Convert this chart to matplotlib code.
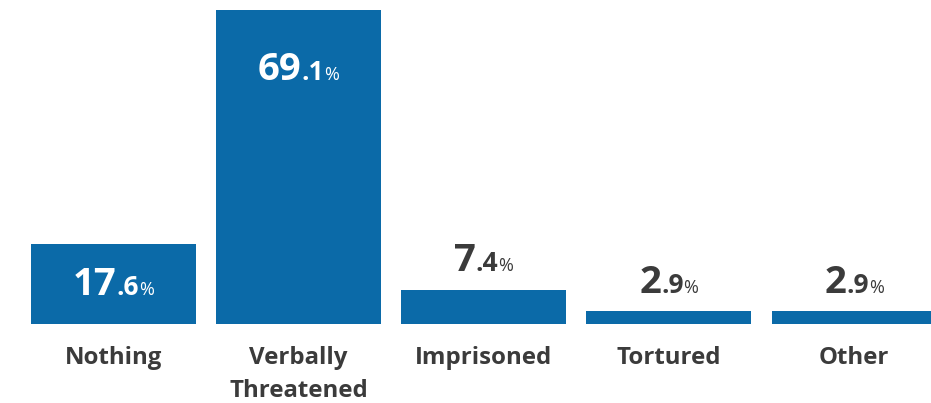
import matplotlib
matplotlib.use("Agg")
import matplotlib.pyplot as plt

categories = ["Nothing", "Verbally\nThreatened", "Imprisoned", "Tortured", "Other"]
values = [17.6, 69.1, 7.4, 2.9, 2.9]
whole_parts = ["17", "69", "7", "2", "2"]
decimal_parts = [".6", ".1", ".4", ".9", ".9"]

BAR = "#0b6aa8"
DARK = "#3b3b3b"
FONT = ["Open Sans", "DejaVu Sans"]

# label placement relative to bar top, in pixels (negative = inside bar)
label_off = [-51, -70, 19, 18, 18]

fig = plt.figure(figsize=(9.31, 4.03), dpi=100)
ax = fig.add_axes([0, 0, 1, 1])
x = list(range(len(values)))
ax.bar(x, values, width=0.89, color=BAR)
ax.set_xlim(-0.613, 4.416)
ax.set_ylim(-17.39, 71.3)
ax.axis("off")

# category labels below bars
for i, c in enumerate(categories):
    ax.annotate(c, xy=(i, 0), xycoords="data", xytext=(0, -22), textcoords="offset pixels",
                ha="center", va="top", fontsize=17.3, fontweight="bold",
                color=DARK, family=FONT, linespacing=1.5)

# value labels: big whole part, smaller decimal, small percent
texts = []
for i, v in enumerate(values):
    col = "white" if label_off[i] < 0 else DARK
    pieces = [(whole_parts[i], 27.5, "bold"), (decimal_parts[i], 19, "bold"), ("%", 13, "normal")]
    row = []
    for s, fs, w in pieces:
        t = ax.annotate(s, xy=(i, v), xycoords="data", xytext=(0, label_off[i]),
                        textcoords="offset pixels", ha="left", va="baseline",
                        fontsize=fs, fontweight=w, color=col, family=FONT)
        row.append(t)
    texts.append(row)

fig.canvas.draw()
r = fig.canvas.get_renderer()
for i, row in enumerate(texts):
    widths = [t.get_window_extent(r).width for t in row]
    total = sum(widths)
    cur = -total / 2
    for t, w in zip(row, widths):
        t.xyann = (cur, label_off[i])
        cur += w

fig.savefig("out.png", dpi=100)
